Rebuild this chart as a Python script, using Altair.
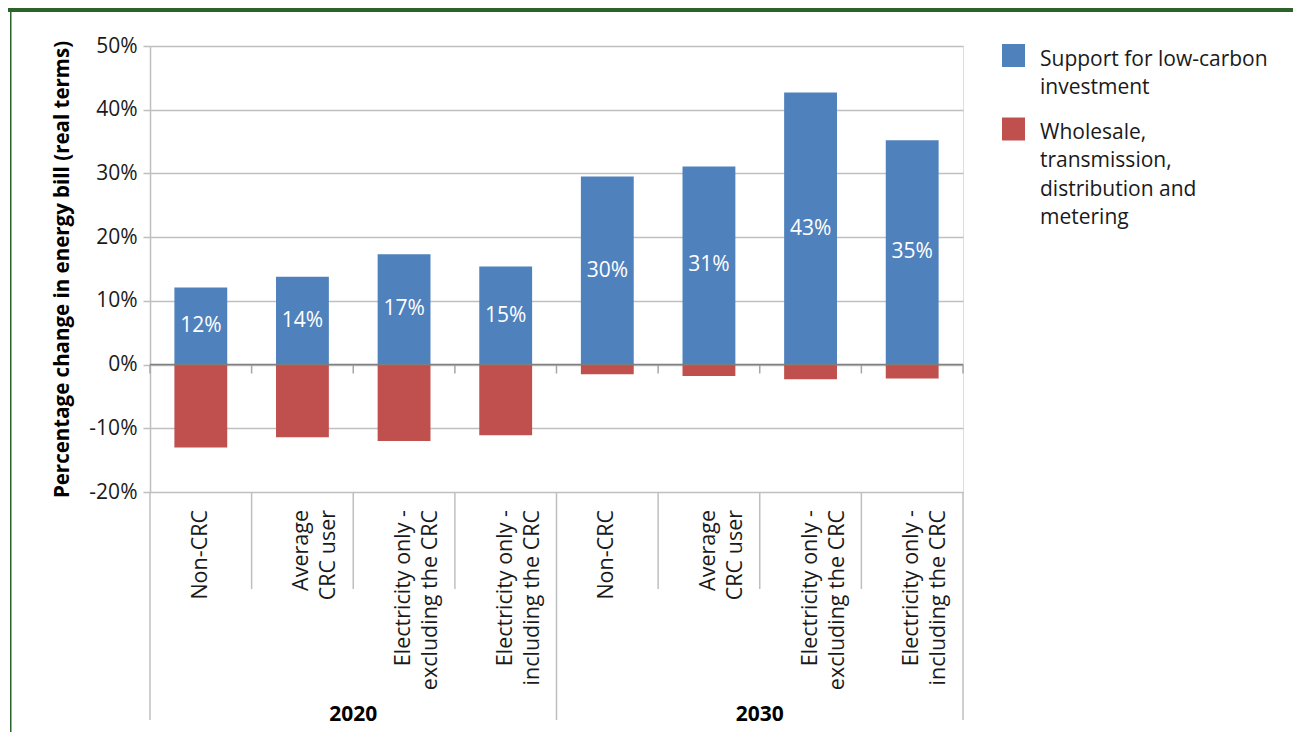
import altair as alt
import pandas as pd

# ---- data ----
years = ["2020", "2030"]
categories = [
    "Non-CRC",
    "Average|CRC user",
    "Electricity only -|excluding the CRC",
    "Electricity only -|including  the CRC",
] * 2
low_carbon = [12.1, 13.8, 17.3, 15.4, 29.5, 31.1, 42.7, 35.2]
wholesale = [-13.0, -11.4, -12.0, -11.1, -1.5, -1.8, -2.3, -2.2]
bar_labels = ["12%", "14%", "17%", "15%", "30%", "31%", "43%", "35%"]
series = [
    "Support for low-carbon investment",
    "Wholesale, transmission, distribution and metering",
]
legend_text = [
    "Support for low-carbon|investment",
    "Wholesale,|transmission,|distribution and|metering",
]
colors = ["#4f81bd", "#c0504d"]
y_ticks = [-20, -10, 0, 10, 20, 30, 40, 50]

FONT = "Open Sans"
W, H = 813, 446
GRID = "#bfbfbf"
n = len(low_carbon)
idx = list(range(n))

bars_df = pd.DataFrame({
    "pos": idx * 2,
    "series": [series[0]] * n + [series[1]] * n,
    "value": low_carbon + wholesale,
})
lab_df = pd.DataFrame({"pos": idx, "low": low_carbon, "label": bar_labels})
cat_df = pd.DataFrame({"pos": idx, "cat": categories})
year_df = pd.DataFrame({"pos": [0, 4], "year": years})
bnd_short = pd.DataFrame({"b": [1, 2, 3, 5, 6, 7]})
bnd_long = pd.DataFrame({"b": [0, 4, 8]})
bnd_all = pd.DataFrame({"b": list(range(n + 1))})
one = pd.DataFrame({"a": [0]})

xscale = alt.Scale(domain=[0, n], nice=False, zero=False)
yscale = alt.Scale(domain=[-20, 50], nice=False, zero=False)


def y_axis():
    return alt.Axis(
        title="Percentage change in energy bill (real terms)",
        values=y_ticks,
        labelExpr="datum.value + '%'",
        labelFont=FONT, labelFontSize=21, labelColor="#1a1a1a", labelPadding=6,
        tickColor=GRID, tickSize=7, tickWidth=1.5,
        domainColor=GRID, domainWidth=1.5,
        grid=True, gridColor=GRID, gridWidth=1.3,
        titleFont=FONT, titleFontSize=20.5, titleFontWeight="bold", titleColor="#000000",
        titlePadding=16,
    )


bars = alt.Chart(bars_df).transform_calculate(
    lo="datum.pos + 0.24", hi="datum.pos + 0.76", zero="0"
).mark_bar().encode(
    x=alt.X("lo:Q", scale=xscale, axis=None),
    x2="hi:Q",
    y=alt.Y("value:Q", scale=yscale, axis=y_axis()),
    y2="zero:Q",
    color=alt.Color("series:N", scale=alt.Scale(domain=series, range=colors), legend=None),
)

bar_text = alt.Chart(lab_df).transform_calculate(
    c="datum.pos + 0.5", m="datum.low / 2"
).mark_text(color="white", font=FONT, fontSize=21, baseline="middle").encode(
    x=alt.X("c:Q", scale=xscale, axis=None),
    y=alt.Y("m:Q", scale=yscale, axis=y_axis()),
    text="label:N",
)

zero_line = alt.Chart(one).mark_rule(color="#7f7f7f", strokeWidth=1.5).encode(
    x=alt.datum(0, scale=xscale, axis=None), x2=alt.datum(n),
    y=alt.datum(0, scale=yscale, axis=y_axis()),
)

zero_ticks = alt.Chart(bnd_all).mark_rule(color="#a6a6a6", strokeWidth=1.5).encode(
    x=alt.X("b:Q", scale=xscale, axis=None),
    y=alt.datum(0, scale=yscale, axis=y_axis()),
    y2=alt.datum(-1.4),
)

div_short = alt.Chart(bnd_short).mark_rule(color=GRID, strokeWidth=1.5).encode(
    x=alt.X("b:Q", scale=xscale, axis=None),
    y=alt.value(H), y2=alt.value(H + 97),
)
div_long = alt.Chart(bnd_long).mark_rule(color=GRID, strokeWidth=1.5).encode(
    x=alt.X("b:Q", scale=xscale, axis=None),
    y=alt.value(H), y2=alt.value(H + 228),
)

cat_text = alt.Chart(cat_df).transform_calculate(c="datum.pos + 0.5").mark_text(
    angle=270, align="right", baseline="middle", lineBreak="|", lineHeight=27,
    font=FONT, fontSize=21.5, color="#1a1a1a",
).encode(
    x=alt.X("c:Q", scale=xscale, axis=None),
    y=alt.value(H + 18),
    text="cat:N",
)

year_text = alt.Chart(year_df).transform_calculate(c="datum.pos + 2").mark_text(
    baseline="middle", font=FONT, fontSize=21, fontWeight="bold", color="#000000",
).encode(
    x=alt.X("c:Q", scale=xscale, axis=None),
    y=alt.value(H + 223),
    text="year:N",
)

# frame decoration (green band on top, thin line on the left)
band = alt.Chart(one).mark_rect(color="#2c632b").encode(
    x=alt.value(-142), x2=alt.value(W + 340), y=alt.value(-38), y2=alt.value(-34)
)
left_line = alt.Chart(one).mark_rect(color="#2c632b").encode(
    x=alt.value(-140), x2=alt.value(-138.5), y=alt.value(-34), y2=alt.value(H + 260)
)

# legend
legend_layers = []
tops = [-2, 71.5]
for s, txt, col, top in zip(series, legend_text, colors, tops):
    legend_layers.append(
        alt.Chart(one).mark_rect(color=col).encode(
            x=alt.value(852), x2=alt.value(875), y=alt.value(top), y2=alt.value(top + 23)
        )
    )
    legend_layers.append(
        alt.Chart(one).mark_text(
            align="left", baseline="alphabetic", lineBreak="|", lineHeight=28.3,
            font=FONT, fontSize=21, color="#1a1a1a",
        ).encode(x=alt.value(890), y=alt.value(top + 21.5), text=alt.value(txt))
    )

chart = alt.layer(
    bars, bar_text, zero_ticks, zero_line, div_short, div_long, cat_text, year_text,
    band, left_line, *legend_layers,
).properties(
    width=W, height=H,
    padding={"left": 142, "top": 38, "right": 330, "bottom": 240},
    autosize=alt.AutoSizeParams(type="none"),
).configure_view(stroke=None).configure(font=FONT)

chart.save("out.html", embed_options={"renderer": "svg", "actions": False})
